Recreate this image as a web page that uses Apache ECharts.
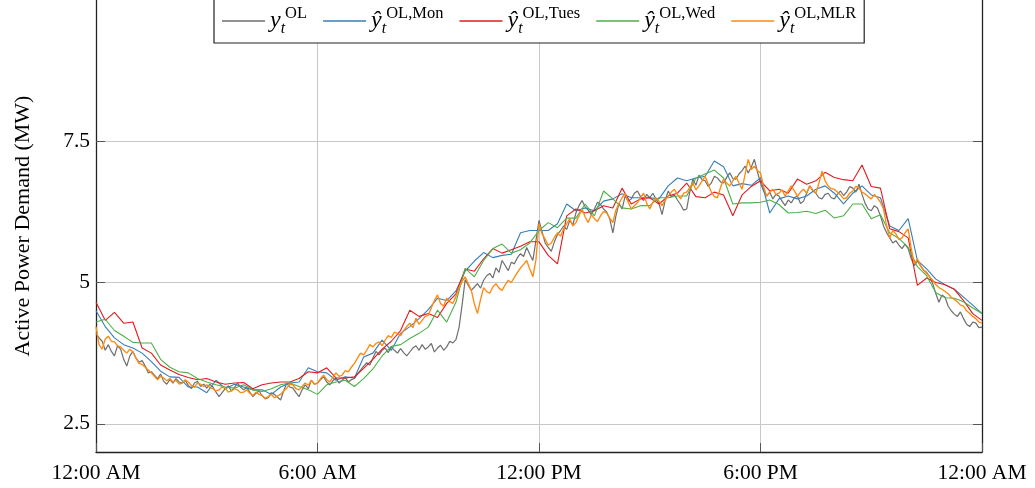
<!DOCTYPE html>
<html>
<head>
<meta charset="utf-8">
<title>Active power demand</title>
<script src="https://cdn.jsdelivr.net/npm/echarts@6/dist/echarts.min.js"></script>
<style>
  html, body { margin: 0; padding: 0; background: #fff; }
  #chart { width: 1035px; height: 488px; }
</style>
</head>
<body>
<div id="chart"></div>
<script>
// x axis: hours of the day
const hourTicks = [0, 6, 12, 18, 24]
const hourLabels = ['12:00 AM', '6:00 AM', '12:00 PM', '6:00 PM', '12:00 AM']
const demandTicks = [2.5, 5, 7.5]

// sampling steps (hours)
const fineStep = 1 / 12  // 5 min
const coarseStep = 0.25  // 15 min

// measured demand y_t^OL, every 5 min (one row per hour)
const actualOL = [
  4.10, 4.02, 3.96, 3.80, 3.90, 3.78, 3.70, 3.88, 3.82, 3.64, 3.52, 3.70,
  3.78, 3.66, 3.59, 3.62, 3.52, 3.40, 3.42, 3.36, 3.30, 3.38, 3.25, 3.20,
  3.28, 3.22, 3.30, 3.24, 3.22, 3.27, 3.18, 3.12, 3.22, 3.25, 3.16, 3.20,
  3.13, 3.20, 3.15, 3.06, 2.98, 3.05, 3.12, 3.17, 3.08, 3.14, 3.22, 3.15,
  3.10, 3.14, 3.06, 2.98, 3.04, 3.08, 3.00, 2.94, 2.96, 3.05, 3.02, 2.97,
  2.92, 3.08, 3.22, 3.15, 3.13, 3.05, 2.98, 3.10, 3.19, 3.12, 3.27, 3.20,
  3.22, 3.28, 3.33, 3.24, 3.19, 3.26, 3.31, 3.22, 3.27, 3.32, 3.24, 3.28,
  3.30, 3.38, 3.45, 3.52, 3.58, 3.54, 3.66, 3.78, 3.72, 3.80, 3.84, 3.76,
  3.86, 3.80, 3.75, 3.83, 3.76, 3.70, 3.77, 3.84, 3.88, 3.80, 3.90, 3.82,
  3.86, 3.92, 3.77, 3.84, 3.89, 3.80, 3.86, 3.96, 3.93, 3.99, 4.20, 4.60,
  5.05, 4.95, 4.86, 4.92, 4.98, 4.90, 5.04, 5.12, 5.16, 5.08, 5.26, 5.18,
  5.39, 5.30, 5.21, 5.36, 5.33, 5.44, 5.51, 5.46, 5.62, 5.50, 5.39, 5.74,
  6.10, 5.90, 5.70, 5.62, 5.55, 5.72, 5.85, 5.92, 6.00, 5.94, 6.10, 6.02,
  6.23, 6.36, 6.45, 6.34, 6.28, 6.20, 6.30, 6.42, 6.38, 6.30, 6.25, 6.12,
  5.88, 6.18, 6.40, 6.30, 6.53, 6.44, 6.48, 6.58, 6.62, 6.52, 6.45, 6.56,
  6.50, 6.58, 6.48, 6.40, 6.20, 6.45, 6.62, 6.52, 6.55, 6.46, 6.38, 6.28,
  6.30, 6.60, 6.83, 6.72, 6.90, 6.82, 6.80, 6.70, 6.76, 6.88, 6.85, 6.78,
  6.76, 6.86, 6.94, 6.84, 6.83, 6.92, 6.98, 7.06, 6.94, 7.04, 7.18, 6.96,
  6.76, 6.62, 6.53, 6.60, 6.48, 6.56, 6.53, 6.44, 6.36, 6.46, 6.41, 6.50,
  6.53, 6.40, 6.44, 6.58, 6.71, 6.62, 6.58, 6.50, 6.48, 6.56, 6.58, 6.50,
  6.48, 6.56, 6.62, 6.54, 6.60, 6.70, 6.67, 6.60, 6.74, 6.56, 6.40, 6.30,
  6.27, 6.36, 6.32, 6.18, 6.00, 5.88, 5.79, 5.70, 5.74, 5.66, 5.60, 5.68,
  5.60, 5.42, 5.30, 5.38, 5.30, 5.22, 5.18, 5.10, 4.98, 4.80, 4.65, 4.78,
  4.74, 4.58, 4.50, 4.44, 4.40, 4.48, 4.36, 4.26, 4.22, 4.30, 4.28, 4.20,
  4.21
]

// MLR forecast, every 5 min
const mlrOL = [
  4.22, 3.90, 3.82, 4.00, 4.05, 3.96, 3.95, 3.88, 3.86, 3.80, 3.75, 3.82,
  3.77, 3.66, 3.57, 3.55, 3.50, 3.45, 3.40, 3.34, 3.28, 3.34, 3.31, 3.26,
  3.30, 3.24, 3.27, 3.20, 3.22, 3.28, 3.24, 3.18, 3.15, 3.22, 3.20, 3.16,
  3.19, 3.14, 3.12, 3.08, 3.10, 3.15, 3.13, 3.06, 3.08, 3.12, 3.10, 3.05,
  3.06, 3.10, 3.04, 3.00, 3.06, 3.02, 3.00, 2.95, 2.98, 3.02, 2.96, 2.99,
  3.02, 3.08, 3.13, 3.20, 3.19, 3.12, 3.10, 3.16, 3.22, 3.18, 3.27, 3.20,
  3.22, 3.30, 3.36, 3.28, 3.24, 3.32, 3.40, 3.34, 3.36, 3.44, 3.42, 3.50,
  3.57, 3.66, 3.75, 3.72, 3.80, 3.90, 3.86, 3.92, 3.95, 3.88, 3.98, 4.06,
  4.03, 4.12, 4.10, 4.06, 4.15, 4.22, 4.28, 4.20, 4.37, 4.26, 4.33, 4.40,
  4.42, 4.55, 4.68, 4.78, 4.63, 4.58, 4.72, 4.66, 4.63, 4.75, 4.91, 5.02,
  5.10, 4.98, 4.86, 4.62, 4.45, 4.70, 4.91, 4.84, 4.81, 4.92, 4.98, 4.90,
  4.86, 4.96, 5.04, 5.00, 5.09, 5.18, 5.26, 5.32, 5.39, 5.24, 5.10, 5.40,
  6.04, 5.86, 5.77, 5.66, 5.70, 5.80, 5.88, 5.82, 5.95, 6.04, 6.13, 6.00,
  6.06, 6.18, 6.30, 6.16, 6.06, 6.20, 6.13, 6.08, 6.18, 6.26, 6.23, 6.14,
  6.06, 6.28, 6.40, 6.50, 6.58, 6.42, 6.30, 6.36, 6.41, 6.50, 6.58, 6.40,
  6.30, 6.42, 6.50, 6.44, 6.36, 6.46, 6.53, 6.60, 6.65, 6.56, 6.48, 6.58,
  6.60, 6.68, 6.76, 6.64, 6.71, 6.80, 6.88, 6.74, 6.60, 6.52, 6.50, 6.68,
  6.83, 6.76, 6.71, 6.80, 6.88, 6.76, 6.65, 6.92, 7.18, 7.00, 7.06, 6.98,
  6.94, 6.70, 6.53, 6.60, 6.65, 6.56, 6.58, 6.64, 6.53, 6.62, 6.71, 6.62,
  6.53, 6.60, 6.65, 6.58, 6.71, 6.64, 6.58, 6.76, 6.97, 6.80, 6.71, 6.66,
  6.65, 6.60, 6.55, 6.48, 6.50, 6.58, 6.62, 6.70, 6.67, 6.60, 6.57, 6.52,
  6.48, 6.56, 6.50, 6.42, 6.30, 6.00, 5.79, 5.92, 5.86, 5.76, 5.79, 5.88,
  5.95, 5.60, 5.33, 5.42, 5.30, 5.22, 5.16, 5.10, 5.04, 4.96, 4.91, 4.88,
  4.84, 4.80, 4.74, 4.70, 4.66, 4.60, 4.58, 4.50, 4.45, 4.40, 4.36, 4.30,
  4.28
]

// day-profile forecasts, every 15 min
const monOL = [
  4.50, 4.22, 4.02, 3.90,  3.84, 3.75, 3.60, 3.43,
  3.33, 3.32, 3.15, 3.15,  3.05, 3.27, 3.12, 3.20,
  3.15, 3.10, 3.10, 3.02,  3.15, 3.22, 3.24, 3.49,
  3.42, 3.40, 3.27, 3.33,  3.31, 3.68, 3.75, 3.98,
  3.80, 4.10, 4.22, 4.36,  4.52, 4.72, 4.68, 4.85,
  5.20, 5.38, 5.53, 5.44,  5.48, 5.50, 5.88, 5.92,
  5.92, 5.92, 6.04, 6.39,  6.27, 6.32, 6.27, 6.44,
  6.48, 6.57, 6.50, 6.50,  6.50, 6.48, 6.71, 6.85,
  6.80, 6.85, 6.88, 7.15,  7.05, 6.71, 6.75, 6.72,
  6.85, 6.23, 6.48, 6.53,  6.48, 6.53, 6.65, 6.71,
  6.58, 6.39, 6.58, 6.71,  6.55, 6.50, 6.00, 5.92,
  6.13, 5.39, 5.24, 5.06,  4.96, 4.88, 4.74, 4.60,
  4.45
]

const tuesOL = [
  4.65, 4.33, 4.47, 4.28,  4.30, 3.84, 3.75, 3.54,
  3.45, 3.37, 3.32, 3.28,  3.30, 3.24, 3.20, 3.22,
  3.23, 3.12, 3.19, 3.22,  3.24, 3.24, 3.30, 3.42,
  3.40, 3.49, 3.31, 3.31,  3.33, 3.48, 3.64, 3.82,
  3.96, 4.15, 4.51, 4.40,  4.45, 4.38, 4.63, 4.80,
  5.24, 5.20, 5.42, 5.60,  5.52, 5.58, 5.64, 5.72,
  5.72, 5.48, 5.33, 6.18,  6.30, 6.23, 6.27, 6.36,
  6.32, 6.67, 6.39, 6.48,  6.50, 6.39, 6.53, 6.58,
  6.76, 6.52, 6.50, 6.60,  6.55, 6.18, 6.55, 6.70,
  6.80, 6.62, 6.65, 6.58,  6.83, 6.74, 6.80, 6.95,
  6.86, 6.82, 6.80, 7.08,  6.70, 6.67, 5.95, 5.90,
  5.79, 4.95, 5.08, 5.00,  4.96, 4.88, 4.68, 4.45,
  4.33
]

const wedOL = [
  4.30, 4.35, 4.15, 4.05,  3.94, 3.93, 3.93, 3.64,
  3.50, 3.42, 3.40, 3.30,  3.24, 3.19, 3.15, 3.13,
  3.19, 3.10, 3.07, 3.12,  3.19, 3.22, 3.16, 3.10,
  3.02, 3.19, 3.24, 3.27,  3.16, 3.30, 3.47, 3.70,
  3.87, 3.90, 4.01, 4.10,  4.21, 4.51, 4.30, 4.65,
  5.25, 5.10, 5.39, 5.60,  5.68, 5.52, 5.58, 5.70,
  5.92, 6.06, 5.97, 6.14,  6.14, 6.39, 6.18, 6.62,
  6.48, 6.32, 6.30, 6.36,  6.36, 6.50, 6.50, 6.53,
  6.53, 6.85, 6.92, 6.99,  6.85, 6.39, 6.41, 6.41,
  6.42, 6.46, 6.38, 6.23,  6.24, 6.26, 6.22, 6.28,
  6.14, 6.18, 6.39, 6.39,  6.13, 6.20, 5.88, 5.78,
  5.62, 5.28, 5.12, 4.82,  4.73, 4.72, 4.66, 4.55,
  4.45
]

const serif = 'Liberation Serif'
const lineColors = {
  actual: '#6e6e6e',
  mon: '#377eb8',
  tues: '#e41a1c',
  wed: '#4daf4a',
  mlr: '#ff8a10'
}
const lineWidths = { actual: 1.2, mon: 1.1, tues: 1.1, wed: 1.1, mlr: 1.35 }
// legend math: base letter + subscript t + superscript
const legendText = {
  actual: ['y', 'OL'],
  mon: ['ŷ', 'OL,Mon'],
  tues: ['ŷ', 'OL,Tues'],
  wed: ['ŷ', 'OL,Wed'],
  mlr: ['ŷ', 'OL,MLR']
}

function toPoints (values, step) {
  return values.map((v, i) => [i * step, v])
}

function lineSeries (name, values, step) {
  return {
    name: name,
    type: 'line',
    data: toPoints(values, step),
    symbol: 'none',
    lineStyle: { width: lineWidths[name], color: lineColors[name] },
    itemStyle: { color: lineColors[name] }
  }
}

const chart = echarts.init(document.getElementById('chart'))

const axisLineStyle = { color: '#222', width: 1.3 }
const tickStyle = { color: '#555', width: 1 }

const option = {
  animation: false,
  backgroundColor: '#fff',
  grid: { left: 96, right: 53, top: -2, bottom: 36 },
  legend: {
    left: 214,
    top: -1,
    padding: [6, 8],
    itemGap: 16,
    itemWidth: 43,
    itemHeight: 1.3,
    icon: 'rect',
    selectedMode: false,
    backgroundColor: '#fff',
    borderColor: '#222',
    borderWidth: 1.2,
    data: ['actual', 'mon', 'tues', 'wed', 'mlr'],
    formatter: function (name) {
      const t = legendText[name]
      return '{v|' + t[0] + '}{sub|t}{sup|' + t[1] + '}'
    },
    textStyle: {
      color: '#000',
      rich: {
        v: { fontFamily: serif, fontStyle: 'italic', fontSize: 24, lineHeight: 32, verticalAlign: 'middle', color: '#000' },
        sub: { fontFamily: serif, fontStyle: 'italic', fontSize: 16, lineHeight: 16, verticalAlign: 'bottom', color: '#000' },
        sup: { fontFamily: serif, fontSize: 16.5, lineHeight: 16, verticalAlign: 'top', color: '#000' }
      }
    }
  },
  xAxis: {
    type: 'value',
    min: 0,
    max: 24,
    interval: 6,
    axisLine: { show: true, onZero: false, lineStyle: axisLineStyle },
    axisTick: { show: true, inside: true, length: 9, lineStyle: tickStyle },
    axisLabel: {
      margin: 10,
      fontFamily: serif,
      fontSize: 21.5,
      color: '#000',
      formatter: function (v) { return hourLabels[hourTicks.indexOf(v)] }
    },
    splitLine: { show: true, lineStyle: { color: '#c8c8c8', width: 1 } }
  },
  yAxis: [
    {
      type: 'value',
      min: 2,
      max: 10,
      position: 'left',
      name: 'Active Power Demand (MW)',
      nameLocation: 'middle',
      nameRotate: 90,
      nameGap: 62,
      nameTextStyle: { fontFamily: serif, fontSize: 22, color: '#000' },
      axisLine: { show: true, lineStyle: axisLineStyle },
      axisTick: { show: true, inside: true, length: 9, customValues: demandTicks, lineStyle: tickStyle },
      axisLabel: {
        customValues: demandTicks,
        margin: 6,
        fontFamily: serif,
        fontSize: 21.5,
        color: '#000',
        formatter: function (v) { return String(v) }
      },
      splitLine: { show: true, lineStyle: { color: '#c8c8c8', width: 1 } }
    },
    {
      type: 'value',
      min: 2,
      max: 10,
      position: 'right',
      axisLine: { show: true, lineStyle: axisLineStyle },
      axisTick: { show: true, inside: true, length: 9, customValues: demandTicks, lineStyle: tickStyle },
      axisLabel: { show: false },
      splitLine: { show: false }
    }
  ],
  series: [
    lineSeries('actual', actualOL, fineStep),
    lineSeries('mon', monOL, coarseStep),
    lineSeries('tues', tuesOL, coarseStep),
    lineSeries('wed', wedOL, coarseStep),
    lineSeries('mlr', mlrOL, fineStep)
  ]
}

chart.setOption(option, true)
</script>
</body>
</html>
